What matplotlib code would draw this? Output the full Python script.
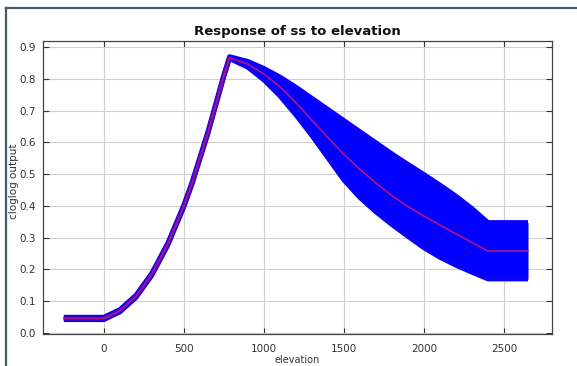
import matplotlib
matplotlib.use("Agg")
import matplotlib.pyplot as plt
from matplotlib.lines import Line2D
import numpy as np

# data
elevation = [-250, 0, 100, 200, 300, 400, 450, 500, 550, 600, 650, 700, 750, 785,
             800, 900, 1000, 1100, 1200, 1300, 1400, 1500, 1600, 1700, 1800, 1900,
             2000, 2100, 2200, 2300, 2400, 2650]
mean_resp = [0.046, 0.046, 0.07, 0.115, 0.185, 0.28, 0.34, 0.40, 0.47, 0.55, 0.63, 0.72,
             0.81, 0.866, 0.864, 0.846, 0.815, 0.775, 0.725, 0.67, 0.615, 0.562, 0.515,
             0.472, 0.432, 0.398, 0.368, 0.34, 0.312, 0.285, 0.258, 0.258]
upper_resp = [0.050, 0.050, 0.074, 0.119, 0.189, 0.284, 0.344, 0.404, 0.474, 0.554, 0.634,
              0.724, 0.814, 0.870, 0.868, 0.855, 0.833, 0.806, 0.774, 0.739, 0.704, 0.669,
              0.634, 0.599, 0.564, 0.531, 0.499, 0.466, 0.431, 0.392, 0.348, 0.348]
lower_resp = [0.042, 0.042, 0.066, 0.111, 0.181, 0.276, 0.336, 0.396, 0.466, 0.546, 0.626,
              0.716, 0.806, 0.862, 0.86, 0.836, 0.796, 0.746, 0.686, 0.621, 0.551, 0.481,
              0.426, 0.381, 0.341, 0.304, 0.268, 0.238, 0.213, 0.191, 0.170, 0.170]
xticks = [0, 500, 1000, 1500, 2000, 2500]
yticks = [0.0, 0.1, 0.2, 0.3, 0.4, 0.5, 0.6, 0.7, 0.8, 0.9]

plt.rcParams['font.family'] = ['DejaVu Sans']
fig = plt.figure(figsize=(5.77, 3.66), dpi=100)
fig.patch.set_facecolor('white')
ax = fig.add_axes([0.0745, 0.0874, 0.8822, 0.8006])

band_col = '#0a00f5'
ax.fill_between(elevation, lower_resp, upper_resp, color='#0000ff', linewidth=0, zorder=2)
ax.plot(elevation, upper_resp, color=band_col, linewidth=3.4, zorder=2,
        solid_capstyle='butt', solid_joinstyle='round')
ax.plot(elevation, lower_resp, color=band_col, linewidth=3.4, zorder=2,
        solid_capstyle='butt', solid_joinstyle='round')
# darker blended core where the band is narrow (rising part, up to the peak)
peak = 15
ax.plot(elevation[:peak], mean_resp[:peak], color='#3c0cc0', linewidth=3.0, zorder=3,
        solid_capstyle='butt', solid_joinstyle='round')
ax.plot(elevation, mean_resp, color='#b0128e', linewidth=1.2, zorder=4)

ax.set_xlim(-380, 2800)
ax.set_ylim(-0.003, 0.919)
ax.set_xticks(xticks)
ax.set_yticks(yticks)
ax.set_yticklabels([f"{v:.1f}" for v in yticks])
ax.grid(True, color='#d0d0d0', linewidth=0.8, zorder=0)
ax.set_axisbelow(True)
ax.tick_params(direction='in', top=True, right=True, length=4, width=0.8,
               labelsize=7.5, labelcolor='#333333', color='#333333', pad=5)
ax.tick_params(axis='x', pad=7)
for s in ax.spines.values():
    s.set_color('#444444')
    s.set_linewidth(0.9)

ax.set_title('Response of ss to elevation', fontsize=9.5, fontweight='bold', pad=4,
             color='#111111')
ax.set_xlabel('elevation', fontsize=7, color='#333333', labelpad=1)
ax.set_ylabel('cloglog output', fontsize=7.5, color='#333333')
ax.yaxis.set_label_coords(-0.047, 0.52)

# window frame
fig.add_artist(Line2D([6/577, 1.0], [1 - 8/366, 1 - 8/366], transform=fig.transFigure,
                      color='#4a5868', linewidth=1.6))
fig.add_artist(Line2D([6/577, 6/577], [0.0, 1 - 8/366], transform=fig.transFigure,
                      color='#4a5868', linewidth=1.6))

fig.savefig('out.png', dpi=100, facecolor='white')
